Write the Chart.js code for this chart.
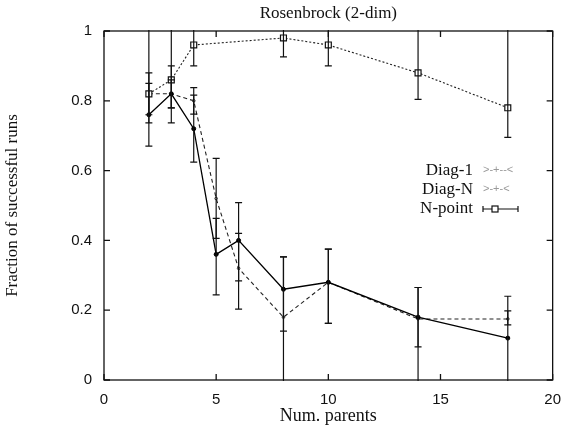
<!DOCTYPE html>
<html>
<head>
<meta charset="utf-8">
<script src="https://cdn.jsdelivr.net/npm/chart.js@4.4.0/dist/chart.umd.min.js"></script>
<style>
  html,body{margin:0;padding:0;background:#fff}
</style>
</head>
<body>
<canvas id="rosenChart" width="572" height="430"></canvas>
<script>
// axis ticks
const xTicks = [0, 5, 10, 15, 20];
const yTicks = [0, 0.2, 0.4, 0.6, 0.8, 1];

// N-point (squares, dotted)
const npX  = [2, 3, 4, 8, 10, 14, 18];
const npY  = [0.82, 0.86, 0.96, 0.98, 0.96, 0.88, 0.78];
const npLo = [0.76, 0.78, 0.90, 0.926, 0.90, 0.804, 0.695];
const npHi = [0.88, 1.05, 1.05, 1.05, 1.05, 1.05, 1.05];

// Diag-N (filled dots, solid)
const dnX  = [2, 3, 4, 5, 6, 8, 10, 14, 18];
const dnY  = [0.76, 0.82, 0.72, 0.36, 0.40, 0.26, 0.28, 0.18, 0.12];
const dnLo = [0.67, 0.737, 0.624, 0.244, 0.284, 0.14, 0.162, -0.05, -0.05];
const dnHi = [0.85, 0.90, 0.816, 0.463, 0.508, 0.353, 0.375, 0.265, 0.24];

// Diag-1 (dashed)
const d1X  = [2, 3, 4, 5, 6, 8, 10, 14, 18];
const d1Y  = [0.82, 0.82, 0.80, 0.52, 0.32, 0.18, 0.28, 0.175, 0.175];
const d1Lo = [0.737, 0.78, 0.762, 0.406, 0.203, -0.05, 0.162, 0.095, 0.158];
const d1Hi = [1.05, 0.86, 0.838, 0.635, 0.42, 0.353, 0.375, 0.265, 0.198];

const legendNames = ['Diag-1', 'Diag-N', 'N-point'];
const legendSamples = ['>-+--<', '>-+-<'];

const pts = (xs, ys, lo, hi) => xs.map((x, i) => ({x: x, y: ys[i], lo: lo[i], hi: hi[i]}));

const serif = "'Liberation Serif', 'Times New Roman', serif";
const sans = "'Liberation Sans', Arial, sans-serif";

// error bars, clipped to the plot area
const errorBars = {
  id: 'errorBars',
  afterDatasetsDraw(chart) {
    const {ctx, chartArea: a, scales: {x, y}} = chart;
    ctx.save();
    ctx.beginPath(); ctx.rect(a.left, a.top - 1, a.right - a.left, a.bottom - a.top + 2); ctx.clip();
    ctx.strokeStyle = '#111'; ctx.lineWidth = 1.2; ctx.setLineDash([]);
    chart.data.datasets.forEach(ds => ds.data.forEach(p => {
      const px = x.getPixelForValue(p.x), yl = y.getPixelForValue(p.lo), yh = y.getPixelForValue(p.hi);
      ctx.beginPath();
      ctx.moveTo(px, yl); ctx.lineTo(px, yh);
      ctx.moveTo(px - 3.5, yl); ctx.lineTo(px + 3.5, yl);
      ctx.moveTo(px - 3.5, yh); ctx.lineTo(px + 3.5, yh);
      ctx.stroke();
    }));
    ctx.restore();
  }
};

// frame, inward ticks, title and legend (gnuplot style)
const frameAndText = {
  id: 'frameAndText',
  afterDraw(chart) {
    const {ctx, chartArea: a, scales: {x, y}} = chart;
    ctx.save();
    ctx.strokeStyle = '#111'; ctx.lineWidth = 1.3; ctx.setLineDash([]);
    ctx.strokeRect(a.left, a.top, a.right - a.left, a.bottom - a.top);
    ctx.beginPath();
    xTicks.forEach(v => {
      const px = x.getPixelForValue(v);
      ctx.moveTo(px, a.bottom); ctx.lineTo(px, a.bottom - 6);
      ctx.moveTo(px, a.top); ctx.lineTo(px, a.top + 6);
    });
    yTicks.forEach(v => {
      const py = y.getPixelForValue(v);
      ctx.moveTo(a.left, py); ctx.lineTo(a.left + 6, py);
      ctx.moveTo(a.right, py); ctx.lineTo(a.right - 6, py);
    });
    ctx.stroke();

    // title
    ctx.fillStyle = '#111';
    ctx.font = '17px ' + serif;
    ctx.textAlign = 'center'; ctx.textBaseline = 'middle';
    ctx.fillText('Rosenbrock (2-dim)', (a.left + a.right) / 2, 14);

    // legend
    const lx = 473, rows = [171, 190, 209];
    ctx.textAlign = 'right';
    legendNames.forEach((n, i) => ctx.fillText(n, lx, rows[i]));
    ctx.fillStyle = '#999'; ctx.font = '11px ' + sans; ctx.textAlign = 'left';
    legendSamples.forEach((s, i) => ctx.fillText(s, 483, rows[i] - 1));
    const ry = rows[2];
    ctx.strokeStyle = '#111'; ctx.lineWidth = 1.2;
    ctx.beginPath();
    ctx.moveTo(483, ry); ctx.lineTo(518, ry);
    ctx.moveTo(483, ry - 3); ctx.lineTo(483, ry + 3);
    ctx.moveTo(518, ry - 3); ctx.lineTo(518, ry + 3);
    ctx.stroke();
    ctx.fillStyle = '#fff';
    ctx.fillRect(492, ry - 3, 6, 6); ctx.strokeRect(492, ry - 3, 6, 6);
    ctx.restore();
  }
};

new Chart(document.getElementById('rosenChart').getContext('2d'), {
  type: 'line',
  data: {
    datasets: [
      {label: 'N-point', data: pts(npX, npY, npLo, npHi), borderColor: '#222', borderWidth: 1.1, borderDash: [2, 2],
       pointStyle: 'rect', pointRadius: 4.2, pointBackgroundColor: '#fff', pointBorderColor: '#111', pointBorderWidth: 1.2},
      {label: 'Diag-N', data: pts(dnX, dnY, dnLo, dnHi), borderColor: '#000', borderWidth: 1.3,
       pointRadius: 2, pointBackgroundColor: '#000', pointBorderColor: '#000', pointBorderWidth: 1},
      {label: 'Diag-1', data: pts(d1X, d1Y, d1Lo, d1Hi), borderColor: '#222', borderWidth: 1.1, borderDash: [4, 3],
       pointRadius: 1.3, pointBackgroundColor: '#fff', pointBorderColor: '#222', pointBorderWidth: 1}
    ]
  },
  options: {
    responsive: false, animation: false, devicePixelRatio: 1,
    layout: {padding: {left: 2, right: 6, top: 31, bottom: 3}},
    elements: {line: {tension: 0}},
    plugins: {legend: {display: false}, tooltip: {enabled: false}},
    scales: {
      x: {
        type: 'linear', min: 0, max: 20,
        afterBuildTicks: s => { s.ticks = xTicks.map(v => ({value: v})); },
        afterFit: s => { s.height = 47; },
        grid: {display: false, drawTicks: false}, border: {display: false},
        ticks: {padding: 11, color: '#111', font: {family: sans, size: 15}},
        title: {display: true, text: 'Num. parents', color: '#111', padding: 0, font: {family: serif, size: 18}}
      },
      y: {
        min: 0, max: 1,
        afterBuildTicks: s => { s.ticks = yTicks.map(v => ({value: v})); },
        afterFit: s => { s.width = 102; },
        grid: {display: false, drawTicks: false}, border: {display: false},
        ticks: {padding: 12, color: '#111', font: {family: sans, size: 15}, callback: v => String(v)},
        title: {display: true, text: 'Fraction of successful runs', color: '#111', padding: 0, font: {family: serif, size: 17}}
      }
    }
  },
  plugins: [errorBars, frameAndText]
});
</script>
</body>
</html>
